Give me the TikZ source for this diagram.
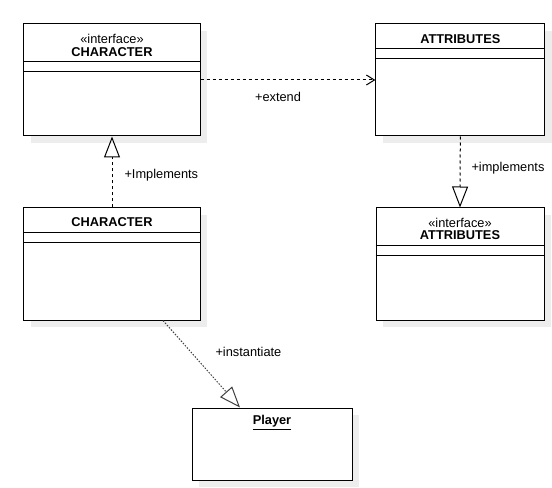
\documentclass[tikz,border=0pt]{standalone}
\usepackage{fontspec}
\setmainfont{Liberation Sans}
\usetikzlibrary{arrows.meta,shadows,calc}

\begin{document}
\begin{tikzpicture}[x=1bp, y=-1bp, line width=1bp,
  txt/.style={font=\fontsize{12.8bp}{15bp}\selectfont, inner sep=0pt},
  ttl/.style={font=\fontsize{12.8bp}{15bp}\selectfont\bfseries, inner sep=0pt},
  classbox/.style={draw, fill=white, inner sep=0pt, minimum height=112bp,
    drop shadow={shadow xshift=7bp, shadow yshift=-7bp, fill=black!7, opacity=1}},
  dep/.style={dash pattern=on 3bp off 3bp},
  realize/.style={dep, -{Triangle[open, length=21bp, width=16bp, line width=1bp]}},
  uses/.style={dep, -{Straight Barb[length=8bp, width=10bp, line width=1bp]}}]

\useasboundingbox (0,0) rectangle (552,488);

% class boxes
\node[classbox, minimum width=176bp] (ci) at (112,80) {};
\node[classbox, minimum width=169bp] (at) at (460.3,80) {};
\node[classbox, minimum width=176bp] (cc) at (112,264) {};
\node[classbox, minimum width=168bp] (ai) at (460,264) {};
\node[classbox, minimum width=160bp, minimum height=72bp] (pl) at (272,444) {};

% compartments
\foreach \n/\d in {ci/38, ci/48, at/25, at/35, cc/25, cc/35, ai/38, ai/48}
  \draw ($(\n.north west)+(0,\d)$) -- ($(\n.north east)+(0,\d)$);

% titles
\node[txt] (ciStereo) at ($(ci.north)+(0,15)$) {«interface»};
\node[ttl] (ciName) at ($(ci.north)+(0,29)$) {CHARACTER};
\node[ttl] (atName) at ($(at.north)+(0,16)$) {ATTRIBUTES};
\node[ttl] (ccName) at ($(cc.north)+(0,15)$) {CHARACTER};
\node[txt] (aiStereo) at ($(ai.north)+(0,15)$) {«interface»};
\node[ttl] (aiName) at ($(ai.north)+(0,28)$) {ATTRIBUTES};
\node[ttl] (plName) at ($(pl.north)+(0,15)$) {\underline{Player}};

% relations
\draw[uses] (ci.east) -- (at.west);
\node[txt] (extLbl) at (278,97) {+extend};

\draw[realize] (cc.north) -- (ci.south);
\node[txt, anchor=west] (impLbl) at (124,175) {+Implements};

\draw[realize] (at.south) -- (ai.north);
\node[txt, anchor=west] (impLbl2) at (471,168) {+implements};

\draw[realize, black!75, dash pattern=on 1.5bp off 1.5bp] ([xshift=51bp]cc.south) -- ([xshift=-32bp]pl.north);
\node[txt, anchor=west] (instLbl) at (215,352) {+instantiate};

\end{tikzpicture}
\end{document}
